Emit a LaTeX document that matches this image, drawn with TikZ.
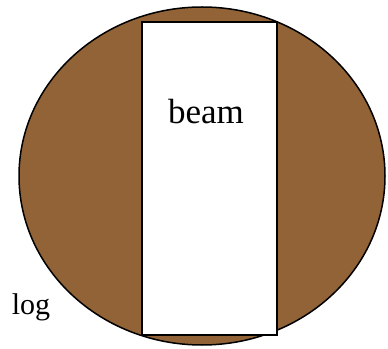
\documentclass[tikz,border=0pt]{standalone}
\usepackage{fontspec}
\setmainfont{Liberation Serif}
\usetikzlibrary{shapes.geometric}
\definecolor{wood}{RGB}{145,99,55}
\begin{document}
\begin{tikzpicture}[x=1pt,y=1pt,
  lbl/.style={inner sep=0pt, anchor=base, text=black}]
\useasboundingbox (0,0) rectangle (388,348);
\node[draw=black, line width=1.5pt, fill=wood, ellipse, minimum width=366pt, minimum height=338pt, inner sep=0pt] (log) at (202,172) {};
\node[draw=black, line width=1.6pt, fill=white, rectangle, minimum width=135pt, minimum height=313pt, inner sep=0pt] (beam) at (209.5,169.5) {};
\node[lbl, font=\fontsize{35}{40}\selectfont] (beamtxt) at (206,224) {beam};
\node[lbl, font=\fontsize{30}{34}\selectfont] (logtxt) at (31,34) {log};
\end{tikzpicture}
\end{document}
